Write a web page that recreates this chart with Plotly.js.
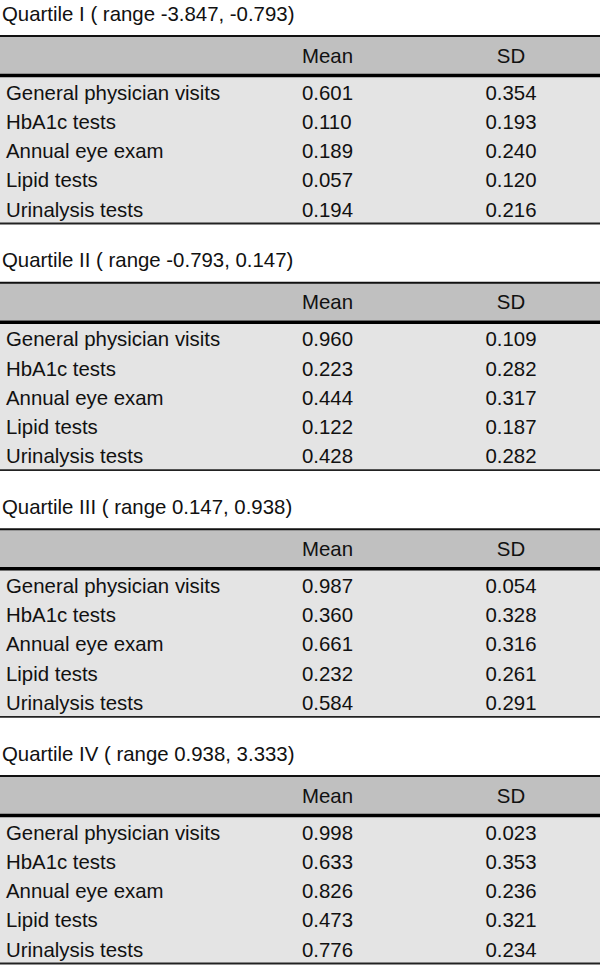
<!DOCTYPE html>
<html>
<head>
<meta charset="utf-8">
<script src="https://cdn.plot.ly/plotly-3.0.1.min.js"></script>
<style>html,body{margin:0;padding:0;background:#fff;}#chart{width:600px;height:968px;}</style>
</head>
<body>
<div id="chart"></div>
<script>
// ---- data ----
const quartileTitles = [
  "Quartile I ( range -3.847, -0.793)",
  "Quartile II ( range -0.793, 0.147)",
  "Quartile III ( range 0.147, 0.938)",
  "Quartile IV ( range 0.938, 3.333)"
];
const columnHeaders = ["Mean", "SD"];
const measures = ["General physician visits", "HbA1c tests", "Annual eye exam", "Lipid tests", "Urinalysis tests"];
const meanQ1 = ["0.601", "0.110", "0.189", "0.057", "0.194"];
const sdQ1   = ["0.354", "0.193", "0.240", "0.120", "0.216"];
const meanQ2 = ["0.960", "0.223", "0.444", "0.122", "0.428"];
const sdQ2   = ["0.109", "0.282", "0.317", "0.187", "0.282"];
const meanQ3 = ["0.987", "0.360", "0.661", "0.232", "0.584"];
const sdQ3   = ["0.054", "0.328", "0.316", "0.261", "0.291"];
const meanQ4 = ["0.998", "0.633", "0.826", "0.473", "0.776"];
const sdQ4   = ["0.023", "0.353", "0.236", "0.321", "0.234"];
const means = [meanQ1, meanQ2, meanQ3, meanQ4];
const sds = [sdQ1, sdQ2, sdQ3, sdQ4];

// ---- layout constants ----
const W = 600, H = 968;
const BLOCK = 246.67;
const TITLE_Y = 15.5, TOP_LINE = 36, HEAD_BOT = 74, THICK_C = 75.5, BODY_BOT = 223.5;
const HEAD_Y = 57.5, ROW0 = 94.5, ROWSTEP = 29.25;
const X_TITLE = 2, X_LABEL = 6, X_MEAN = 302, X_SD = 511;
const FONT = {family: "Liberation Sans, Arial, sans-serif", size: 20.4, color: "#111"};

const traces = [];
const shapes = [];
quartileTitles.forEach((t, k) => {
  const o = k * BLOCK;
  // bands & rules
  shapes.push({type: "rect", xref: "x", yref: "y", x0: 0, x1: W, y0: o + TOP_LINE, y1: o + HEAD_BOT, fillcolor: "#c0c0c0", line: {width: 0}, layer: "below"});
  shapes.push({type: "rect", xref: "x", yref: "y", x0: 0, x1: W, y0: o + HEAD_BOT, y1: o + BODY_BOT, fillcolor: "#e4e4e4", line: {width: 0}, layer: "below"});
  shapes.push({type: "line", xref: "x", yref: "y", x0: 0, x1: W, y0: o + TOP_LINE, y1: o + TOP_LINE, line: {color: "#111", width: 2}});
  shapes.push({type: "line", xref: "x", yref: "y", x0: 0, x1: W, y0: o + THICK_C, y1: o + THICK_C, line: {color: "#000", width: 3.5}});
  shapes.push({type: "line", xref: "x", yref: "y", x0: 0, x1: W, y0: o + BODY_BOT, y1: o + BODY_BOT, line: {color: "#222", width: 1.8}});

  const rowsY = measures.map((m, i) => o + ROW0 + i * ROWSTEP);
  // title
  traces.push({type: "scatter", mode: "text", x: [X_TITLE], y: [o + TITLE_Y], text: [t], textposition: "middle right", textfont: FONT, hoverinfo: "skip", showlegend: false});
  // headers
  traces.push({type: "scatter", mode: "text", x: [X_MEAN], y: [o + HEAD_Y], text: [columnHeaders[0]], textposition: "middle right", textfont: FONT, hoverinfo: "skip", showlegend: false});
  traces.push({type: "scatter", mode: "text", x: [X_SD], y: [o + HEAD_Y], text: [columnHeaders[1]], textposition: "middle center", textfont: FONT, hoverinfo: "skip", showlegend: false});
  // row labels
  traces.push({type: "scatter", mode: "text", x: measures.map(() => X_LABEL), y: rowsY, text: measures, textposition: "middle right", textfont: FONT, hoverinfo: "skip", showlegend: false});
  // values
  traces.push({type: "scatter", mode: "text", x: means[k].map(() => X_MEAN), y: rowsY, text: means[k], textposition: "middle right", textfont: FONT, hoverinfo: "skip", showlegend: false});
  traces.push({type: "scatter", mode: "text", x: sds[k].map(() => X_SD), y: rowsY, text: sds[k], textposition: "middle center", textfont: FONT, hoverinfo: "skip", showlegend: false});
});

const layout = {
  width: W, height: H,
  margin: {l: 0, r: 0, t: 0, b: 0, pad: 0},
  paper_bgcolor: "#fff", plot_bgcolor: "#fff",
  xaxis: {range: [0, W], visible: false, fixedrange: true},
  yaxis: {range: [H, 0], visible: false, fixedrange: true},
  shapes: shapes,
  showlegend: false
};
Plotly.newPlot("chart", traces, layout, {staticPlot: true, displayModeBar: false});
</script>
</body>
</html>
